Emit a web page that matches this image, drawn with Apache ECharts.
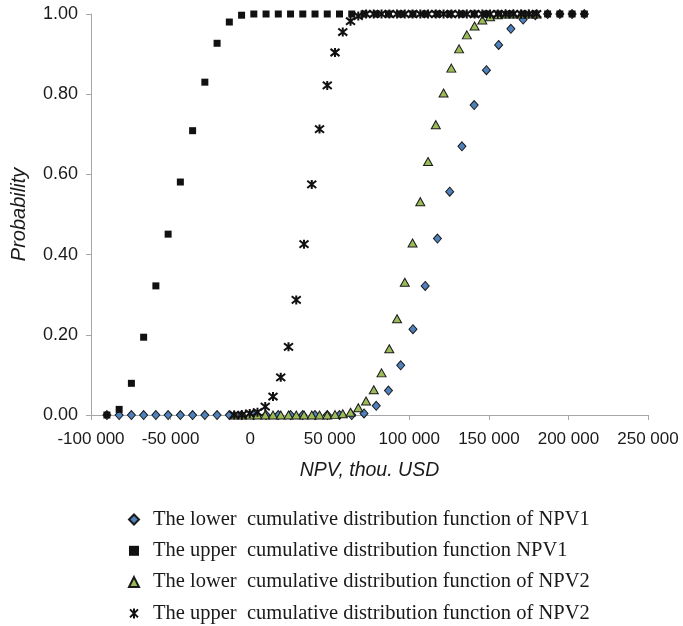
<!DOCTYPE html>
<html>
<head>
<meta charset="utf-8">
<script src="https://cdn.jsdelivr.net/npm/echarts@6/dist/echarts.min.js"></script>
<style>
  html, body { margin: 0; padding: 0; background: #ffffff; }
  #chart { width: 683px; height: 626px; }
</style>
</head>
<body>
<div id="chart"></div>
<script>
// NPV grid for project 1, thou. USD
const npv1X = [-90000, -82308, -74615, -66923, -59231, -51538, -43846, -36154, -28462, -20769,
  -13077, -5385, 2308, 10000, 17692, 25385, 33077, 40769, 48462, 56154,
  63846, 71538, 79231, 86923, 94615, 102308, 110000, 117692, 125385, 133077,
  140769, 148462, 156154, 163846, 171538, 179231, 186923, 194615, 202308, 210000];

// NPV grid for project 2, thou. USD
const npv2X = [-10000, -5128, -256, 4615, 9487, 14359, 19231, 24103, 28974, 33846,
  38718, 43590, 48462, 53333, 58205, 63077, 67949, 72821, 77692, 82564,
  87436, 92308, 97179, 102051, 106923, 111795, 116667, 121538, 126410, 131282,
  136154, 141026, 145897, 150769, 155641, 160513, 165385, 170256, 175128, 180000];

// Lower cumulative distribution function of NPV1
const lowerNpv1 = [0, 0, 0, 0, 0, 0, 0, 0, 0, 0,
  0, 0, 0, 0, 0, 0, 0, 0, 0, 0,
  0, 0.004, 0.023, 0.061, 0.124, 0.214, 0.322, 0.440, 0.557, 0.670,
  0.773, 0.860, 0.923, 0.963, 0.986, 0.997, 1, 1, 1, 1];

// Upper cumulative distribution function of NPV1
const upperNpv1 = [0, 0.014, 0.079, 0.194, 0.322, 0.451, 0.581, 0.709, 0.830, 0.927,
  0.980, 0.997, 1, 1, 1, 1, 1, 1, 1, 1,
  1, 1, 1, 1, 1, 1, 1, 1, 1, 1,
  1, 1, 1, 1, 1, 1, 1, 1, 1, 1];

// Lower cumulative distribution function of NPV2
const lowerNpv2 = [0, 0, 0, 0, 0, 0, 0, 0, 0, 0,
  0, 0, 0, 0.001, 0.003, 0.007, 0.018, 0.035, 0.063, 0.105,
  0.165, 0.240, 0.331, 0.429, 0.532, 0.632, 0.724, 0.803, 0.865, 0.913,
  0.948, 0.970, 0.985, 0.993, 0.998, 1, 1, 1, 1, 1];

// Upper cumulative distribution function of NPV2
const upperNpv2 = [0, 0, 0.004, 0.007, 0.021, 0.046, 0.094, 0.170, 0.287, 0.426,
  0.575, 0.713, 0.822, 0.904, 0.955, 0.982, 0.995, 1, 1, 1,
  1, 1, 1, 1, 1, 1, 1, 1, 1, 1,
  1, 1, 1, 1, 1, 1, 1, 1, 1, 1];

const seriesNames = [
  'The lower  cumulative distribution function of NPV1',
  'The upper  cumulative distribution function NPV1',
  'The lower  cumulative distribution function of NPV2',
  'The upper  cumulative distribution function of NPV2'
];

const pair = (xs, ys) => xs.map((x, i) => [x, ys[i]]);

function thousands(v) {
  if (v === 0) return '0';
  const s = Math.abs(v).toString().replace(/\B(?=(\d{3})+(?!\d))/g, ' ');
  return (v < 0 ? '-' : '') + s;
}

// star marker: an X crossed by a vertical stroke
const starPath = 'path://M1,1L9,9M9,1L1,9M5,0L5,10';
const axisGrey = '#a6a6a6';
const labelFont = 'Liberation Sans';

const chart = echarts.init(document.getElementById('chart'), null, { renderer: 'canvas' });
chart.setOption({
  animation: false,
  backgroundColor: '#ffffff',
  grid: { left: 91, right: 35, top: 14, bottom: 211, containLabel: false },
  xAxis: {
    type: 'value',
    min: -100000, max: 250000, interval: 50000,
    name: 'NPV, thou. USD',
    nameLocation: 'middle',
    nameGap: 46,
    nameTextStyle: { fontFamily: labelFont, fontStyle: 'italic', fontSize: 19.5, color: '#1a1a1a' },
    axisLine: { onZero: false, lineStyle: { color: axisGrey, width: 1 } },
    axisTick: { show: true, inside: false, length: 5, lineStyle: { color: axisGrey } },
    axisLabel: { margin: 16, fontFamily: labelFont, fontSize: 17, color: '#1a1a1a', formatter: thousands },
    splitLine: { show: false }
  },
  yAxis: {
    type: 'value',
    min: 0, max: 1, interval: 0.2,
    name: 'Probability',
    nameLocation: 'middle',
    nameGap: 62,
    nameRotate: 90,
    nameTextStyle: { fontFamily: labelFont, fontStyle: 'italic', fontSize: 20, color: '#1a1a1a' },
    axisLine: { show: true, onZero: false, lineStyle: { color: axisGrey, width: 1 } },
    axisTick: { show: true, inside: false, length: 5, lineStyle: { color: axisGrey } },
    axisLabel: { margin: 13, fontFamily: labelFont, fontSize: 18, color: '#1a1a1a', formatter: v => v.toFixed(2) },
    splitLine: { show: false }
  },
  legend: {
    orient: 'vertical',
    left: 123,
    top: 504,
    height: 140,
    itemWidth: 10,
    itemHeight: 10,
    itemGap: 10.3,
    textStyle: { fontFamily: 'Liberation Serif', fontSize: 20.5, color: '#1a1a1a', lineHeight: 20, padding: [0, 0, 0, 9] },
    data: seriesNames
  },
  series: [
    {
      name: seriesNames[0], type: 'scatter', symbol: 'diamond', symbolSize: [8, 9],
      itemStyle: { color: '#4f81bd', borderColor: '#1a1a1a', borderWidth: 1, opacity: 1 },
      data: pair(npv1X, lowerNpv1)
    },
    {
      name: seriesNames[1], type: 'scatter', symbol: 'rect', symbolSize: 7,
      itemStyle: { color: '#111111', opacity: 1 },
      data: pair(npv1X, upperNpv1)
    },
    {
      name: seriesNames[2], type: 'scatter', symbol: 'triangle', symbolSize: [9, 8],
      itemStyle: { color: '#9bbb59', borderColor: '#1a1a1a', borderWidth: 1, opacity: 1 },
      data: pair(npv2X, lowerNpv2)
    },
    {
      name: seriesNames[3], type: 'scatter', symbol: starPath, symbolSize: 9,
      itemStyle: { color: 'rgba(0,0,0,0)', borderColor: '#111111', borderWidth: 2, opacity: 1 },
      data: pair(npv2X, upperNpv2)
    }
  ]
});
</script>
</body>
</html>
